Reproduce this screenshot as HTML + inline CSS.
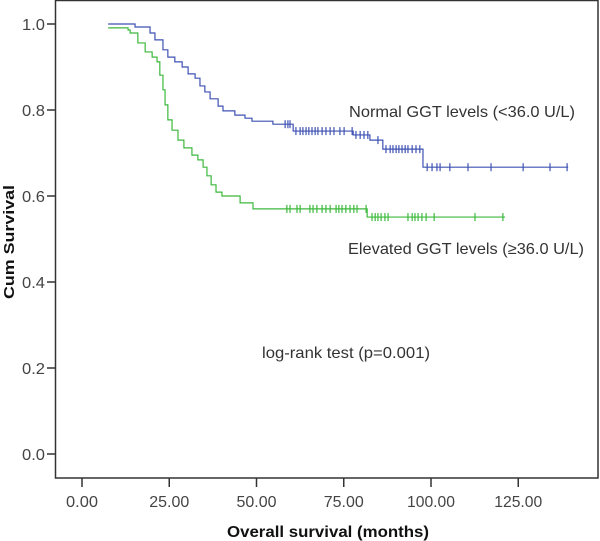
<!DOCTYPE html>
<html><head><meta charset="utf-8"><style>
html,body{margin:0;padding:0;background:#fff;}
svg{display:block;font-family:"Liberation Sans",Arial,sans-serif;}
</style></head><body>
<svg id="chart" width="600" height="541" viewBox="0 0 600 541">
<rect x="55.5" y="0.5" width="542.5" height="477.5" fill="#fff" stroke="#333" stroke-width="1.5"/>
<g id="yaxis"></g>
<g id="xaxis"></g>
<g id="series"></g>
<text x="14" y="242" transform="rotate(-90 14 242)" text-anchor="middle" font-size="15" font-weight="bold" fill="#111" textLength="114" lengthAdjust="spacingAndGlyphs">Cum Survival</text>
<text x="227" y="537" font-size="16" font-weight="bold" fill="#111" textLength="202" lengthAdjust="spacingAndGlyphs">Overall survival (months)</text>
<text x="349" y="117" font-size="16" fill="#333" textLength="226" lengthAdjust="spacingAndGlyphs">Normal GGT levels (&lt;36.0 U/L)</text>
<text x="348" y="254" font-size="16" fill="#333" textLength="236" lengthAdjust="spacingAndGlyphs">Elevated GGT levels (≥36.0 U/L)</text>
<text x="262" y="358" font-size="16" fill="#333" textLength="168" lengthAdjust="spacingAndGlyphs">log-rank test (p=0.001)</text>
</svg>
<script>
const xTicks=[0,25,50,75,100,125];
const xTickLabels=["0.00","25.00","50.00","75.00","100.00","125.00"];
const yTicks=[0,0.2,0.4,0.6,0.8,1.0];
const yTickLabels=["0.0","0.2","0.4","0.6","0.8","1.0"];
const normalTimes=[7.5,15.2,19.5,20.9,23.2,24.6,26.6,28.7,30.4,32.4,33.8,35.2,36.7,39.0,40.4,43.8,46.7,48.7,54.7,60.5,77.7,82.5,86.2,97.7,139.3];
const normalSurv=[1.0,0.993,0.979,0.963,0.940,0.923,0.912,0.900,0.884,0.874,0.856,0.842,0.826,0.809,0.798,0.788,0.781,0.774,0.767,0.751,0.742,0.730,0.709,0.667,0.667];
const normalCensor=[58.2,59.0,59.6,61.3,62.5,63.3,64.2,65.0,65.9,66.8,67.6,68.8,69.9,71.1,72.2,73.9,75.1,77.4,78.5,79.7,80.8,81.9,84.8,87.1,88.3,89.1,90.0,90.8,91.7,92.6,93.4,94.6,95.7,96.8,98.9,100.3,101.7,102.6,105.4,110.6,117.2,126.4,134.1,139.0];
const elevTimes=[7.5,13.2,13.8,16.0,18.1,20.1,21.5,22.3,23.2,23.8,24.6,25.8,27.5,29.2,31.5,33.2,34.7,35.8,37.0,38.4,40.1,45.3,49.0,81.7,121.2];
const elevSurv=[0.991,0.986,0.979,0.956,0.935,0.923,0.912,0.881,0.847,0.812,0.777,0.753,0.730,0.712,0.695,0.684,0.667,0.647,0.626,0.609,0.600,0.584,0.570,0.551,0.551];
const elevCensor=[58.7,59.6,61.6,62.5,65.3,66.2,67.3,68.8,69.9,71.1,72.8,73.6,74.5,75.6,76.8,77.9,78.8,81.4,83.1,84.0,84.8,85.7,86.8,87.7,93.4,94.6,95.4,96.3,97.4,98.6,100.9,112.6,120.6];

const NS="http://www.w3.org/2000/svg";
const X=t=>82+3.49*t;
const Y=s=>454-430*s;
function mk(tag,attrs,parent){const e=document.createElementNS(NS,tag);for(const k in attrs)e.setAttribute(k,attrs[k]);parent.appendChild(e);return e;}
const ya=document.getElementById('yaxis'),xa=document.getElementById('xaxis'),sg=document.getElementById('series');
yTicks.forEach((v,i)=>{
  const l=mk('line',{x1:47,x2:55,y1:Y(v),y2:Y(v),stroke:'#333','stroke-width':1.5},ya);
  
  
  const t=mk('text',{x:45,y:Y(v)+6,'text-anchor':'end','font-size':16,fill:'#444',textLength:23,lengthAdjust:'spacingAndGlyphs'},ya);
  t.textContent=yTickLabels[i];
  
  
});
xTicks.forEach((v,i)=>{
  const l=mk('line',{x1:X(v),x2:X(v),y1:478,y2:487,stroke:'#333','stroke-width':1.5},xa);
  
  
  const t=mk('text',{x:X(v),y:507,'text-anchor':'middle','font-size':16,fill:'#444',textLength:xTickLabels[i].length*8,lengthAdjust:'spacingAndGlyphs'},xa);
  t.textContent=xTickLabels[i];
  
  
});
function drawCurve(times,surv,censor,color,name){
  let d='M'+X(times[0])+','+Y(surv[0]);
  for(let i=1;i<times.length;i++){d+=' H'+X(times[i])+' V'+Y(surv[i]);}
  const p=mk('path',{d:d,fill:'none',stroke:color,'stroke-width':1.2},sg);
  
  
  censor.forEach(c=>{
    let s=surv[0];
    for(let i=0;i<times.length;i++){if(times[i]<=c)s=surv[i];}
    const m=mk('line',{x1:X(c),x2:X(c),y1:Y(s)-4,y2:Y(s)+4,stroke:color,'stroke-width':1.2},sg);
    
    
  });
}
drawCurve(normalTimes,normalSurv,normalCensor,'#3f52b4','normal-ggt');
drawCurve(elevTimes,elevSurv,elevCensor,'#3cb83c','elevated-ggt');
</script>
</body></html>
